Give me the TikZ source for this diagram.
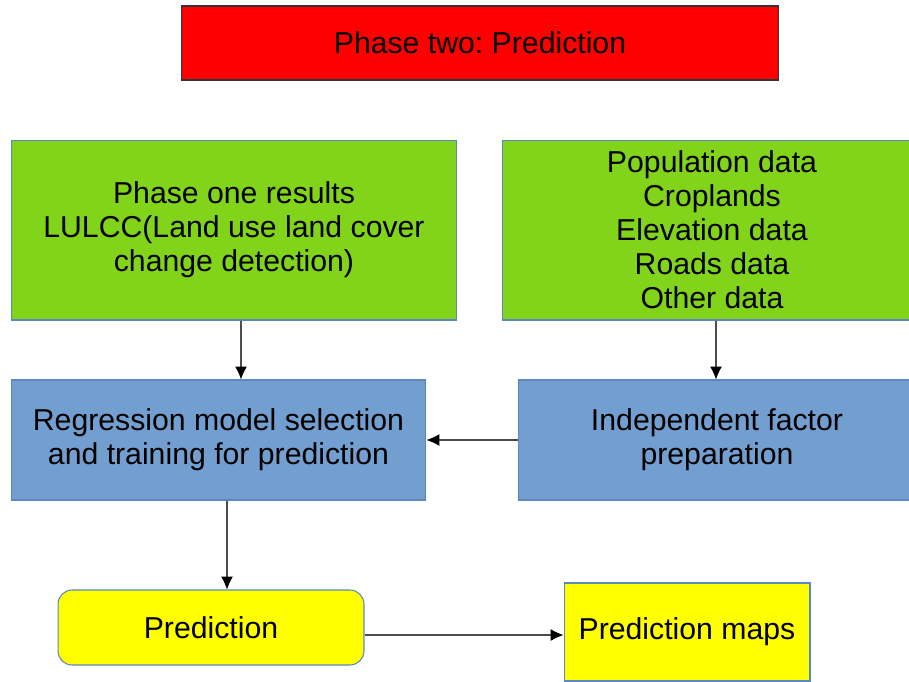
\documentclass[tikz,border=0pt]{standalone}
\usepackage{fontspec}
\setmainfont{Liberation Sans}
\frenchspacing
\usepackage{xcolor}
\usetikzlibrary{arrows.meta,positioning}
\definecolor{phasered}{HTML}{FF0000}
\definecolor{datagreen}{HTML}{81D41A}
\definecolor{stepblue}{HTML}{729FCF}
\definecolor{edgeblue}{HTML}{5A88C2}
\definecolor{outyellow}{HTML}{FFFF00}
\tikzset{box/.style={draw=edgeblue, line width=0.6pt, align=center, inner sep=2pt,
        font=\fontsize{17.2}{19.4}\selectfont},
    flow/.style={-{Latex[length=2.6mm,width=2.4mm,black]}, color=black!70, line width=0.6pt}}

\begin{document}
\begin{tikzpicture}[x=0.02cm, y=-0.02cm]
                \useasboundingbox (0,0) rectangle (909,681);
                \clip (0,0) rectangle (909,681);

                % header
                \node [box, draw=black!80, fill=phasered, minimum width=11.96cm, minimum height=1.48cm] (phase) at (480,43) {Phase two: Prediction};

                % inputs
                \node [box, fill=datagreen, minimum width=8.92cm, minimum height=3.6cm] (results) at (234,230)
                    {Phase one results\\LULCC(Land use land cover\\change detection)};
                \node [box, fill=datagreen, minimum width=8.4cm, minimum height=3.6cm] (data) at (712,230)
                    {Population data\\Croplands\\Elevation data\\Roads data\\Other data};

                % processing
                \node [box, fill=stepblue, minimum width=8.3cm, minimum height=2.4cm] (model) at (218.5,440)
                    {Regression model selection\\and training for prediction};
                \node [box, fill=stepblue, minimum width=7.96cm, minimum height=2.4cm] (factor) at (717,440)
                    {Independent factor\\preparation};

                % outputs
                \node [box, fill=outyellow, rounded corners=8pt, minimum width=6.12cm, minimum height=1.5cm] (pred) at (211,627.5) {Prediction};
                \node [box, fill=outyellow, minimum width=4.92cm, minimum height=1.96cm] (maps) at (687,632) {Prediction maps};

                \draw [flow] ([xshift=0.14cm]results.south) -- ([xshift=0.14cm]results.south |- model.north);
                \draw [flow] ([xshift=0.08cm]data.south) -- ([xshift=0.08cm]data.south |- factor.north);
                \draw [flow] (factor.west) -- (model.east);
                \draw [flow] ([xshift=0.17cm]model.south) -- ([xshift=0.17cm]model.south |- pred.north);
                \draw [flow] ([yshift=-0.15cm]pred.east) -- ([yshift=-0.15cm]pred.east -| maps.west);

\end{tikzpicture}
\end{document}
